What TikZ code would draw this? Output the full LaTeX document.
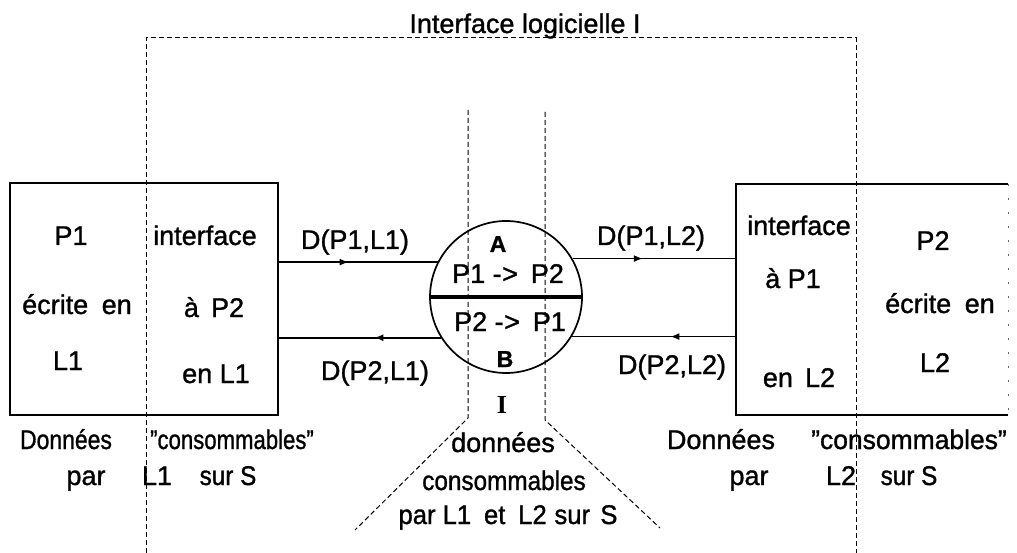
\documentclass[tikz,border=0pt]{standalone}
\usepackage{fontspec}
\usepackage{graphicx}
\setmainfont[FakeBold=1.2]{Liberation Sans}
\newfontfamily\serifbold{Liberation Serif}
\usetikzlibrary{arrows.meta,decorations.markings}

\newcommand{\straightq}{\char34}

\begin{document}
\begin{tikzpicture}[x=1pt,y=-1pt,
  txt/.style={font=\fontsize{27}{31}\selectfont, inner sep=0pt, anchor=base},
  tag/.style={font=\bfseries\fontsize{23}{27}\selectfont, inner sep=0pt, anchor=base},
  frame/.style={line width=1pt, dash pattern=on 5pt off 3pt},
  boxline/.style={line width=1.6pt},
  flow/.style={line width=1.6pt, postaction={decorate},
    decoration={markings, mark=at position #1 with {\arrow{Latex[length=9pt,width=7pt]}}}},
]
\useasboundingbox (0,0) rectangle (1017,553);

% program boxes
\node[draw, boxline, minimum width=268pt, minimum height=232pt, inner sep=0pt] (lbox) at (144,299) {};
\node[minimum width=272pt, minimum height=231pt, inner sep=0pt, outer sep=0pt] (rbox) at (872,299.5) {};
\draw[boxline] (rbox.north east) -- (rbox.north west) -- (rbox.south west) -- (rbox.south east);
\draw[line width=0.6pt, dash pattern=on 2pt off 12pt, black!60] (rbox.north east) -- (rbox.south east);

% exchange disc
\node[draw, circle, line width=1.7pt, minimum size=152pt, inner sep=0pt] (io) at (506,297) {};
\draw[line width=3.5pt] (io.west) -- (io.east);

% software interface frame
\coordinate (fl) at (146,38);
\coordinate (fr) at (856,38);
\coordinate (flb) at (146,553);
\coordinate (frb) at (856,553);
\draw[frame] (flb) -- (fl) -- (fr) -- (frb);
\node[txt] (title) at (525,33) {Interface logicielle I};

% shared data channel
\coordinate (cl1) at (468,110);
\coordinate (cl2) at (468,418);
\coordinate (cl3) at (355,530);
\coordinate (cr1) at (545,112);
\coordinate (cr2) at (545,420);
\coordinate (cr3) at (660,528);
\draw[frame] (cl1) -- (cl2) -- (cl3);
\draw[frame] (cr1) -- (cr2) -- (cr3);

% data flows
\draw[flow=0.44] (io.153 -| lbox.east) -- (io.153);
\draw[flow=0.41] (io.212) -- (io.212 -| lbox.east);
\draw[flow=0.43] (io.30) -- (io.30 -| rbox.west);
\draw[flow=0.40] (io.329 -| rbox.west) -- (io.329);

\node[txt] (d11) at (355,249) {D(P1,L1)};
\node[txt] (d21) at (375,380) {D(P2,L1)};
\node[txt] (d12) at (651,245) {D(P1,L2)};
\node[txt] (d22) at (672,374) {D(P2,L2)};

% left box texts
\node[txt] (p1) at (71,245) {P1};
\node[txt] (p1b) at (77,314) {écrite\hspace{0.5em}en};
\node[txt] (p1c) at (68,370) {L1};
\node[txt] (i1) at (205,245) {interface};
\node[txt] (i1b) at (214,317) {à\hspace{0.45em}P2};
\node[txt] (i1c) at (216,383) {en L1};

% right box texts
\node[txt] (i2) at (799,235) {interface};
\node[txt] (i2b) at (793,288) {à P1};
\node[txt] (i2c) at (799,387) {en\hspace{0.45em}L2};
\node[txt] (p2) at (933,250) {P2};
\node[txt] (p2b) at (940,313) {écrite\hspace{0.5em}en};
\node[txt] (p2c) at (935,372) {L2};

% disc texts
\node[tag] (ta) at (498,252) {A};
\node[txt] (ab) at (508,283) {P1 -\kern0.5pt> \hspace{0.2em}P2};
\node[txt] (ba) at (510,331) {P2 -\kern0.5pt> \hspace{0.2em}P1};
\node[tag] (tb) at (505,367) {B};
\node[font=\serifbold\bfseries\fontsize{26}{30}\selectfont, inner sep=0pt, anchor=base] (ii) at (502,413) {I};

% bottom texts
\node[txt] (lb1) at (66,449) {\scalebox{0.85}[1]{Données}};
\node[txt] (lb2) at (232,449) {\scalebox{0.82}[1]{\straightq consommables\straightq}};
\node[txt] (lb3) at (86,485) {par};
\node[txt] (lb4) at (157,485) {L1};
\node[txt] (lb5) at (228,485) {\scalebox{0.9}[1]{sur S}};

\node[txt] (cb1) at (503,452) {données};
\node[txt] (cb2) at (504,490) {\scalebox{0.9}[1]{consommables}};
\node[txt] (cb3) at (508,524) {\scalebox{0.95}[1]{par L1\hspace{0.5em}et\hspace{0.5em}L2\hspace{0.3em}sur\hspace{0.4em}S}};

\node[txt] (rb1) at (721,449) {Données};
\node[txt] (rb2) at (909,449) {\scalebox{0.98}[1]{\straightq consommables\straightq}};
\node[txt] (rb3) at (749,485) {par};
\node[txt] (rb4) at (841,485) {L2};
\node[txt] (rb5) at (909,485) {\scalebox{0.9}[1]{sur S}};
\end{tikzpicture}
\end{document}
